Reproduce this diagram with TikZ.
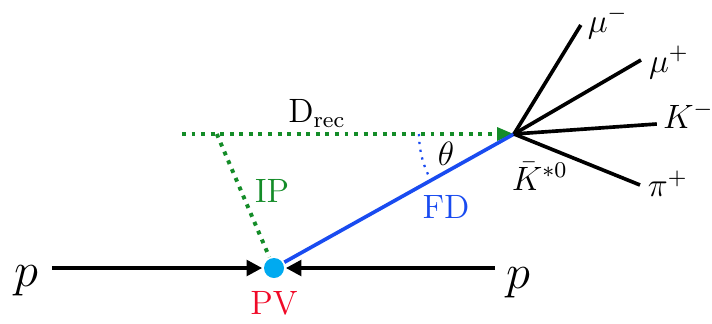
\documentclass[tikz,border=0pt]{standalone}
\usepackage{amsmath}
\usetikzlibrary{calc, arrows.meta}
\definecolor{ipgreen}{RGB}{20,140,40}
\definecolor{fdblue}{RGB}{25,75,240}
\definecolor{pvcyan}{RGB}{0,170,240}
\definecolor{pvred}{RGB}{240,10,40}
\begin{document}
\begin{tikzpicture}[scale=0.5, line width=1.3pt, font=\large,
  beam/.style={-{Triangle[length=5.5pt,width=5.5pt]}},
  dec/.style={font=\large, inner sep=0pt, anchor=base west}]
  \useasboundingbox (-6.85,-1.375) rectangle (10.95,6.7);
  % FD from PV to SV at about 29.3 deg above the beam, theta arc of radius 2.375
  \node[circle, fill=pvcyan, inner sep=0pt, minimum size=0.25cm] (PV) at (0,0) {};
  \coordinate (SV) at (6.0,3.35);
  \coordinate (pL) at (-5.55,0);
  \coordinate (pR) at (5.53,0);
  \coordinate (D0) at (-2.3,3.35);
  \coordinate (I0) at (-1.43,3.35);
  \coordinate (muM) at (7.67,6.075);
  \coordinate (muP) at (9.175,5.2);
  \coordinate (kM) at (9.57,3.6);
  \coordinate (piP) at (9.15,2.075);
  \draw[beam] (pL) -- (PV);
  \draw[beam] (pR) -- (PV);
  \draw[ipgreen, line width=1.4pt, dotted] (I0) -- (PV);
  \draw[ipgreen, line width=1.4pt, dotted, -{Triangle[length=6pt,width=4.5pt]}] (D0) -- (SV);
  \draw[fdblue] (PV) -- (SV);
  \draw[fdblue, thick, dotted] ($(SV)+(180:2.375)$) arc (180:209.3:2.375);
  \draw (SV) -- (muM);
  \draw (SV) -- (muP);
  \draw (SV) -- (kM);
  \draw (SV) -- (piP);
  \node[font=\LARGE, anchor=base] (pl) at (-6.2,-0.45) {$p$};
  \node[font=\LARGE, anchor=base] (pr) at (6.12,-0.5) {$p$};
  \node[pvred, anchor=base] (pvlab) at (0,-1.15) {PV};
  \node[ipgreen, anchor=base] (iplab) at (-0.05,1.63) {IP};
  \node[fdblue, anchor=base] (fdlab) at (4.3,1.25) {FD};
  \node[anchor=base] (drec) at (1.075,3.65) {$\mathrm{D}_{\mathrm{rec}}$};
  \node[anchor=base] (th) at (4.3,2.575) {$\theta$};
  \node[dec] (kst) at (5.9,1.95) {$\bar{K}^{*0}$};
  \node[dec] (mumlab) at (7.8,5.9) {$\mu^-$};
  \node[dec] (muplab) at (9.33,4.9) {$\mu^+$};
  \node[dec] (kmlab) at (9.68,3.5) {$K^-$};
  \node[dec] (piplab) at (9.3,1.78) {$\pi^+$};
\end{tikzpicture}
\end{document}
